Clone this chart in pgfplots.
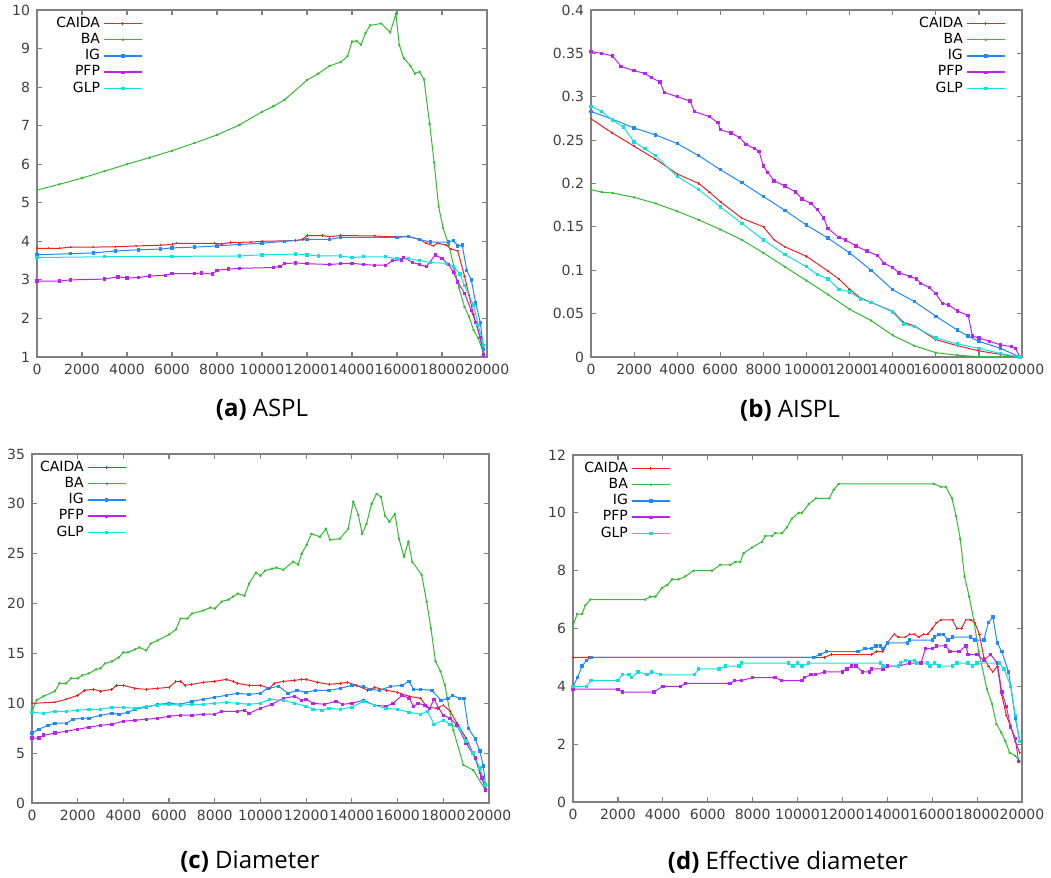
\documentclass[border=0pt]{standalone}
\usepackage{fontspec}
\setmainfont{DejaVu Sans}
\newfontfamily\capfont{Open Sans}
\usepackage{pgfplots}
\pgfplotsset{compat=1.18}
\definecolor{cred}{HTML}{EE2222}
\definecolor{cgreen}{HTML}{33BB33}
\definecolor{cblue}{HTML}{2288FF}
\definecolor{cpurple}{HTML}{BB22EE}
\definecolor{ccyan}{HTML}{11E0E0}

\pgfplotsset{
  gp/.style={scale only axis,
    axis line style={draw=black!50,line width=0.8pt},
    tick style={draw=black!50,line width=0.6pt},
    major tick length=2.5pt, tick align=inside,
    xmin=0,xmax=20000,xtick={0,2000,...,20000},
    scaled x ticks=false,scaled y ticks=false,
    /pgf/number format/1000 sep={},
    /pgf/number format/assume math mode=true,
    tick label style={font=\fontsize{7}{8}\selectfont,text=black!75},
    legend style={draw=none,fill=none,font=\fontsize{7}{8}\selectfont,row sep=-2.5pt},
    legend cell align=right, legend plot pos=right,
    legend image code/.code={
      \fill[#1,mark=none,draw=none] (0pt,-0.4pt) rectangle (19pt,0.4pt);
      \path[#1,only marks] plot coordinates {(9.5pt,0pt)};},
    every axis plot/.append style={line width=0.5pt,mark size=0.6pt}},
  caida/.style={color=cred,mark=+},
  ba/.style={color=cgreen,mark=x},
  ig/.style={color=cblue,mark=square*},
  pfp/.style={color=cpurple,mark=square*},
  glp/.style={color=ccyan,mark=square*}}

\begin{document}
\begin{tikzpicture}
\useasboundingbox (0pt,0pt) rectangle (525.5pt,439pt);

% (a) ASPL
\begin{axis}[gp,at={(18.5pt,260.5pt)},anchor=south west,width=225pt,height=173.5pt,
  ymin=1,ymax=10,ytick={1,...,10},
  legend style={at={(0.02,1.005)},anchor=north west}]
\addplot[caida] coordinates {(0,3.82)(500,3.82)(1000,3.82)(1500,3.85)(2500,3.85)(3500,3.86)(4400,3.88)(5500,3.9)(6000,3.92)(6200,3.95)(7900,3.95)(8200,3.93)(8600,3.97)(9500,3.98)(10000,4.0)(11500,4.02)(11800,4.05)(12000,4.15)(12700,4.15)(13000,4.12)(13500,4.15)(15000,4.14)(15500,4.12)(16500,4.12)(17000,4.05)(17300,3.95)(17600,3.88)(17800,3.95)(18200,3.9)(18400,3.8)(18700,3.75)(19000,3.1)(19200,2.6)(19400,2.1)(19700,1.5)(19850,1.05)};
\addplot[ba] coordinates {(0,5.33)(1000,5.48)(2000,5.64)(3000,5.82)(4000,6.0)(5000,6.17)(6000,6.35)(7000,6.55)(8000,6.76)(9000,7.02)(10000,7.36)(10500,7.5)(11000,7.67)(12000,8.18)(12500,8.35)(13000,8.55)(13500,8.65)(13800,8.8)(14000,9.18)(14200,9.2)(14400,9.1)(14600,9.4)(14800,9.6)(15300,9.65)(15700,9.42)(15950,9.9)(16100,9.1)(16300,8.75)(16600,8.55)(16800,8.35)(17000,8.4)(17200,8.2)(17450,7.05)(17650,6.05)(17850,4.9)(18050,4.35)(18300,3.9)(18550,3.3)(18750,2.8)(19000,2.3)(19200,2.05)(19400,1.7)(19600,1.5)(19850,1.1)};
\addplot[ig] coordinates {(0,3.65)(1500,3.68)(2500,3.7)(3500,3.75)(4500,3.78)(5500,3.8)(6000,3.83)(7000,3.85)(8000,3.88)(9000,3.92)(10000,3.95)(11000,4.0)(12000,4.05)(13000,4.05)(13500,4.1)(16000,4.1)(16500,4.13)(17000,4.05)(17500,3.98)(18300,3.98)(18500,4.02)(18700,3.88)(18900,3.9)(19100,3.25)(19300,3.0)(19500,2.4)(19700,1.9)(19850,1.2)};
\addplot[pfp] coordinates {(0,2.97)(1000,2.97)(1500,3.0)(3000,3.02)(3600,3.08)(4000,3.05)(4500,3.06)(5000,3.1)(5700,3.12)(6000,3.16)(7000,3.16)(7300,3.18)(7800,3.15)(8000,3.25)(8500,3.28)(9000,3.3)(10500,3.32)(10800,3.35)(11000,3.42)(11500,3.44)(12000,3.42)(13000,3.4)(13500,3.42)(14000,3.43)(14500,3.4)(15000,3.38)(15500,3.38)(15800,3.5)(16200,3.52)(16300,3.58)(16700,3.45)(17000,3.4)(17300,3.34)(17700,3.65)(18000,3.55)(18300,3.4)(18500,3.2)(18700,2.95)(19000,2.65)(19300,2.2)(19500,1.9)(19700,1.5)(19850,1.05)};
\addplot[glp] coordinates {(0,3.58)(3000,3.6)(6000,3.61)(9000,3.62)(10000,3.65)(11500,3.67)(12000,3.65)(12500,3.62)(13500,3.62)(14000,3.58)(14500,3.6)(15500,3.6)(16000,3.55)(16500,3.55)(17000,3.5)(17500,3.45)(18200,3.43)(18500,3.35)(18800,3.15)(19000,2.85)(19400,2.35)(19600,1.85)(19850,1.3)};
\legend{CAIDA,BA,IG,PFP,GLP}
\end{axis}

% (b) AISPL
\begin{axis}[gp,at={(295.5pt,260.5pt)},anchor=south west,width=215.5pt,height=173.5pt,
  ymin=0,ymax=0.4,ytick={0,0.05,...,0.4},
  yticklabel style={/pgf/number format/.cd,fixed,precision=2},
  legend style={at={(0.975,1.005)},anchor=north east}]
\addplot[caida] coordinates {(0,0.2745)(1000,0.258)(2000,0.243)(3000,0.228)(4000,0.211)(5000,0.2)(5500,0.19)(6000,0.179)(7000,0.16)(8000,0.15)(8500,0.135)(9000,0.127)(10000,0.116)(11000,0.099)(11500,0.09)(12000,0.078)(12500,0.068)(13000,0.063)(14000,0.0526)(14500,0.04)(15000,0.036)(16000,0.02)(17000,0.013)(18000,0.007)(19000,0.003)(19900,0)};
\addplot[ba] coordinates {(0,0.193)(500,0.19)(1000,0.189)(2000,0.184)(3000,0.177)(4000,0.168)(5000,0.158)(6000,0.147)(7000,0.135)(8000,0.12)(9000,0.104)(10000,0.088)(11000,0.072)(12000,0.055)(13000,0.042)(14000,0.025)(15000,0.013)(16000,0.005)(17000,0.002)(18000,0.0005)(19000,0)(19900,0)};
\addplot[ig] coordinates {(0,0.283)(1000,0.274)(2000,0.264)(3000,0.256)(4000,0.246)(5000,0.232)(6000,0.216)(7000,0.201)(8000,0.185)(9000,0.169)(10000,0.152)(11000,0.137)(12000,0.12)(13000,0.1)(14000,0.0775)(15000,0.064)(16000,0.047)(17000,0.031)(17500,0.024)(18000,0.018)(19000,0.01)(19900,0)};
\addplot[pfp] coordinates {(0,0.352)(500,0.35)(1000,0.347)(1400,0.335)(2000,0.33)(2500,0.327)(2800,0.322)(3200,0.317)(3400,0.305)(4000,0.3)(4600,0.295)(4800,0.283)(5500,0.277)(5900,0.27)(6000,0.262)(6500,0.258)(6900,0.253)(7200,0.245)(7600,0.24)(7800,0.237)(8000,0.22)(8200,0.213)(8500,0.203)(9000,0.197)(9500,0.19)(9800,0.182)(10200,0.177)(10500,0.17)(10800,0.16)(11000,0.148)(11500,0.138)(11800,0.135)(12300,0.128)(12800,0.122)(13300,0.117)(13600,0.108)(14000,0.103)(14300,0.097)(14800,0.093)(15100,0.09)(15300,0.085)(15700,0.08)(16000,0.073)(16300,0.062)(16600,0.06)(17000,0.053)(17500,0.048)(17700,0.024)(18000,0.022)(18500,0.018)(19000,0.014)(19500,0.012)(19700,0.01)(19900,0)};
\addplot[glp] coordinates {(0,0.289)(500,0.283)(1000,0.273)(1500,0.265)(2000,0.248)(2500,0.24)(3000,0.232)(4000,0.208)(5000,0.193)(6000,0.173)(7000,0.154)(8000,0.135)(9000,0.118)(10000,0.104)(10500,0.095)(11000,0.09)(11500,0.078)(12000,0.075)(12500,0.067)(13000,0.063)(14000,0.052)(14500,0.038)(15000,0.035)(16000,0.022)(17000,0.015)(18000,0.01)(19000,0.004)(19900,0)};
\legend{CAIDA,BA,IG,PFP,GLP}
\end{axis}

% (c) Diameter
\begin{axis}[gp,at={(16pt,37.5pt)},anchor=south west,width=228.5pt,height=174.5pt,
  ymin=0,ymax=35,ytick={0,5,...,35},
  legend style={at={(-0.005,1.005)},anchor=north west}]
\addplot[caida] coordinates {(0,10.0)(1000,10.1)(1500,10.4)(2000,10.8)(2300,11.3)(2700,11.4)(3000,11.2)(3500,11.4)(3700,11.8)(4000,11.8)(4500,11.5)(5000,11.4)(5500,11.5)(6000,11.6)(6300,12.2)(6500,12.2)(6700,11.8)(7000,11.9)(7500,12.1)(8000,12.2)(8500,12.4)(8800,12.2)(9000,12.0)(9500,11.8)(10000,11.8)(10400,11.5)(10600,12.0)(11000,12.2)(11500,12.3)(11800,12.4)(12000,12.4)(12500,12.1)(13000,11.9)(13500,12.0)(13800,12.1)(14200,11.8)(14700,11.3)(15000,11.6)(15500,11.3)(16000,11.1)(16500,10.7)(17000,10.5)(17300,9.6)(17700,9.5)(18000,9.8)(18300,9.2)(18600,8.0)(19000,6.5)(19400,4.5)(19600,3.0)(19850,1.5)};
\addplot[ba] coordinates {(0,9.2)(200,10.3)(500,10.7)(1000,11.2)(1200,12.0)(1500,12.0)(1700,12.5)(2000,12.5)(2200,12.8)(2500,13.0)(2800,13.4)(3000,13.5)(3200,14.0)(3500,14.2)(3800,14.6)(4000,15.1)(4200,15.1)(4500,15.4)(4700,15.6)(5000,15.3)(5200,16.0)(5500,16.3)(6000,16.9)(6300,17.4)(6500,18.5)(6800,18.5)(7000,19.0)(7500,19.3)(7800,19.6)(8000,19.5)(8300,20.2)(8600,20.4)(8800,20.7)(9000,21.0)(9300,20.8)(9500,22.0)(9800,23.1)(10000,22.8)(10200,23.3)(10500,23.5)(10700,23.6)(11000,23.4)(11430,24.2)(11650,23.9)(11800,25.0)(12020,25.9)(12230,27.0)(12600,26.7)(12860,27.5)(13040,26.4)(13470,26.5)(13840,27.5)(14060,30.2)(14280,28.9)(14450,27.0)(14640,28.0)(14860,30.0)(15080,31.0)(15270,30.7)(15450,28.8)(15640,28.2)(15880,29.0)(16060,26.5)(16280,24.7)(16470,26.2)(16640,24.2)(17050,22.9)(17270,20.2)(17460,17.5)(17660,14.2)(17880,13.2)(18070,11.8)(18440,7.3)(18880,3.8)(19310,3.3)(19820,1.4)};
\addplot[ig] coordinates {(0,7.0)(300,7.4)(700,7.8)(1000,8.0)(1500,8.0)(1800,8.4)(2200,8.5)(2500,8.5)(3000,8.8)(3500,9.0)(3800,8.9)(4200,9.1)(4500,9.4)(5000,9.6)(5500,9.9)(6000,10.0)(6500,9.9)(7000,10.2)(7500,10.4)(8000,10.6)(8500,10.8)(9000,11.0)(9500,10.9)(10000,11.0)(10300,11.5)(10800,11.7)(11200,11.0)(11600,11.3)(12000,11.1)(12400,11.3)(13000,11.3)(13500,11.5)(14000,11.8)(14500,11.7)(14800,11.4)(15200,11.3)(15700,11.7)(16200,11.8)(16500,12.2)(16700,11.4)(17000,11.4)(17500,11.3)(17900,10.3)(18200,10.5)(18400,10.8)(18700,10.5)(18900,10.5)(19100,7.5)(19400,6.4)(19600,5.2)(19750,3.7)(19850,1.8)};
\addplot[pfp] coordinates {(0,6.5)(300,6.5)(500,6.8)(1000,7.0)(1500,7.2)(2000,7.4)(2500,7.6)(3000,7.8)(3500,7.9)(4000,8.2)(4500,8.3)(5000,8.4)(5500,8.5)(6000,8.7)(6500,8.8)(7000,8.8)(7500,8.9)(8000,8.9)(8300,9.2)(9000,9.2)(9300,9.3)(9500,9.0)(10000,9.5)(10500,9.9)(11000,10.5)(11500,10.7)(11800,10.3)(12000,10.4)(12300,10.0)(12800,9.9)(13300,10.2)(13600,9.9)(14000,10.0)(14500,10.3)(15000,9.8)(15500,9.7)(15800,10.0)(16200,10.8)(16500,10.5)(16700,9.7)(16900,10.0)(17200,9.8)(17400,9.5)(17600,10.4)(17800,9.5)(18000,8.8)(18300,8.5)(18600,7.8)(19000,6.0)(19400,4.5)(19700,2.5)(19850,1.3)};
\addplot[glp] coordinates {(0,9.1)(500,9.0)(1000,9.2)(1500,9.2)(2000,9.3)(2500,9.4)(3000,9.4)(3500,9.6)(4000,9.6)(4500,9.5)(5000,9.7)(5500,9.8)(6000,9.9)(6500,9.8)(7000,9.9)(7500,9.9)(8000,10.0)(8500,10.1)(9000,10.0)(9500,9.9)(10000,10.0)(10400,10.4)(11000,10.3)(11500,10.0)(12000,9.7)(12300,9.4)(12700,9.3)(13000,9.5)(13500,9.4)(14000,9.6)(14500,10.2)(15000,9.8)(15500,9.5)(16000,9.4)(16500,9.1)(17000,8.9)(17300,9.2)(17600,7.9)(18000,8.3)(18300,7.9)(18700,7.5)(19000,6.2)(19300,5.0)(19600,3.5)(19850,1.8)};
\legend{CAIDA,BA,IG,PFP,GLP}
\end{axis}

% (d) Effective diameter
\begin{axis}[gp,at={(286.5pt,38pt)},anchor=south west,width=224.5pt,height=173.5pt,
  ymin=0,ymax=12,ytick={0,2,...,12},
  legend style={at={(0.002,1.005)},anchor=north west}]
\addplot[caida] coordinates {(0,5.0)(700,5.0)(10700,5.0)(11200,5.0)(11500,5.1)(13300,5.1)(13500,5.2)(13800,5.2)(14000,5.5)(14300,5.8)(14500,5.7)(14800,5.7)(15000,5.8)(15200,5.8)(15400,5.7)(15600,5.8)(15800,5.8)(16000,6.0)(16200,6.2)(16400,6.3)(16900,6.3)(17100,6.0)(17300,6.0)(17500,6.3)(17700,6.3)(17900,6.2)(18100,5.8)(18300,5.0)(18500,4.7)(18700,4.5)(18900,4.7)(19100,3.7)(19300,3.0)(19500,2.6)(19700,2.1)(19900,1.7)};
\addplot[ba] coordinates {(0,6.07)(180,6.5)(400,6.5)(550,6.8)(770,7.0)(3220,7.0)(3440,7.1)(3670,7.1)(3960,7.4)(4200,7.5)(4410,7.7)(4700,7.7)(5000,7.8)(5370,8.0)(6190,8.0)(6560,8.2)(7000,8.2)(7230,8.3)(7450,8.3)(7600,8.6)(7970,8.8)(8420,9.0)(8570,9.2)(8860,9.2)(9010,9.3)(9310,9.3)(9530,9.5)(9750,9.8)(10050,10.0)(10200,10.0)(10500,10.3)(10820,10.5)(11420,10.5)(11610,10.8)(11835,11.0)(16065,11.0)(16400,10.9)(16600,10.9)(16880,10.5)(17060,9.9)(17250,9.1)(17440,7.8)(17650,7.1)(17850,6.3)(18070,5.2)(18440,3.9)(18660,3.4)(18860,2.7)(19080,2.4)(19260,2.1)(19450,1.7)(19700,1.6)(19900,1.4)};
\addplot[ig] coordinates {(0,4.0)(200,4.3)(400,4.7)(600,4.9)(800,5.0)(10700,5.0)(11000,5.1)(11300,5.2)(12700,5.2)(13000,5.3)(13300,5.3)(13500,5.4)(13700,5.4)(13800,5.3)(14000,5.5)(14900,5.5)(15000,5.6)(16000,5.6)(16100,5.7)(16300,5.8)(16500,5.8)(16700,5.6)(16900,5.7)(17700,5.7)(17900,5.6)(18300,5.6)(18500,6.2)(18700,6.4)(18900,5.5)(19100,5.2)(19400,4.5)(19500,4.0)(19700,2.9)(19900,2.1)};
\addplot[pfp] coordinates {(0,3.9)(2000,3.9)(2200,3.8)(3600,3.8)(4000,4.0)(4800,4.0)(5000,4.1)(7000,4.1)(7200,4.2)(7500,4.2)(8000,4.3)(9000,4.3)(9300,4.2)(10200,4.2)(10300,4.3)(10600,4.4)(10800,4.4)(11200,4.5)(12000,4.5)(12200,4.6)(12400,4.7)(12600,4.7)(12900,4.5)(13200,4.5)(13300,4.6)(13800,4.6)(14000,4.7)(14500,4.7)(15000,4.8)(15500,4.8)(15700,5.3)(16000,5.3)(16200,5.4)(16600,5.4)(16800,5.2)(17200,5.2)(17500,5.4)(17600,5.1)(18000,5.1)(18300,4.9)(18600,5.1)(18900,4.8)(19100,3.8)(19300,3.3)(19500,2.6)(19700,2.2)(19850,1.4)};
\addplot[glp] coordinates {(0,4.0)(600,4.0)(800,4.2)(2000,4.2)(2200,4.4)(2500,4.4)(2600,4.3)(2900,4.5)(3300,4.4)(3500,4.5)(3900,4.4)(5400,4.4)(5600,4.6)(6500,4.6)(6800,4.7)(7400,4.7)(7500,4.8)(9600,4.8)(9800,4.7)(10000,4.8)(10200,4.7)(10500,4.8)(13700,4.8)(13800,4.7)(14500,4.7)(14600,4.8)(14800,4.9)(15200,4.9)(15300,4.8)(15800,4.8)(15900,4.7)(16100,4.8)(16300,4.7)(16900,4.7)(17100,4.8)(17600,4.8)(17800,4.7)(18000,4.8)(19000,4.8)(19200,4.6)(19500,4.0)(19700,3.0)(19900,2.1)};
\legend{CAIDA,BA,IG,PFP,GLP}
\end{axis}

\node[font=\capfont\fontsize{12}{14}\selectfont] at (131pt,234pt) {\textbf{(a)} ASPL};
\node[font=\capfont\fontsize{12}{14}\selectfont] at (395pt,234pt) {\textbf{(b)} AISPL};
\node[font=\capfont\fontsize{12}{14}\selectfont] at (125pt,8pt) {\textbf{(c)} Diameter};
\node[font=\capfont\fontsize{12}{14}\selectfont] at (394pt,8pt) {\textbf{(d)} Effective diameter};
\end{tikzpicture}
\end{document}
